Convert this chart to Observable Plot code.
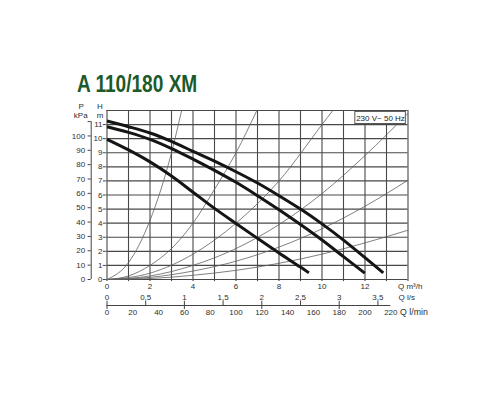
<!DOCTYPE html>
<html><head><meta charset="utf-8">
<script src="https://cdn.jsdelivr.net/npm/d3@7"></script>
<script src="https://cdn.jsdelivr.net/npm/@observablehq/plot@0.6"></script>
<style>
body{margin:0;background:#fff;}
#title{position:relative;height:100px;width:500px;}
#title span{position:absolute;left:77px;top:73px;font:bold 23px "Liberation Sans",Arial,sans-serif;color:#1b5a2a;transform:scaleX(0.83);transform-origin:0 0;white-space:nowrap;line-height:23px;}
#chart svg{display:block;}
</style></head><body>
<div id="title"><span>A 110/180 XM</span></div>
<div id="chart"></div>
<script>
// Pump curves (Q m³/h, H m)
const p1Q = [0, 1, 2, 3, 4, 5, 6, 7, 8, 9, 10, 11, 12, 12.85];
const p1H = [11.25, 10.85, 10.4, 9.8, 9.1, 8.4, 7.65, 6.85, 5.95, 5.0, 3.95, 2.8, 1.55, 0.47];
const p2Q = [0, 1, 2, 3, 4, 5, 6, 7, 8, 9, 10, 11, 11.99];
const p2H = [10.85, 10.45, 9.95, 9.3, 8.55, 7.75, 6.9, 5.95, 4.95, 3.9, 2.8, 1.62, 0.45];
const p3Q = [0, 1, 2, 3, 4, 5, 6, 7, 8, 9, 9.39];
const p3H = [9.95, 9.2, 8.35, 7.35, 6.2, 5.05, 3.98, 2.92, 1.88, 0.88, 0.47];

// System curves (thin)
const s1Q = [0, 1, 2, 3, 3.47];
const s1H = [0, 1.2, 4.2, 9.0, 12];
const s2Q = [0, 1, 2, 3, 4, 5, 6, 6.97];
const s2H = [0, 0.25, 1.0, 2.2, 4.0, 6.4, 9.0, 12];
const s3Q = [0, 2, 4, 6, 8, 10, 10.5];
const s3H = [0, 0.45, 1.8, 4.0, 7.0, 11.0, 12];
const s4Q = [0, 2, 4, 6, 8, 10, 12, 14];
const s4H = [0, 0.25, 1.0, 2.2, 3.9, 6.1, 8.8, 11.8];
const s5Q = [0, 2, 4, 6, 8, 10, 12, 14];
const s5H = [0, 0.15, 0.6, 1.3, 2.3, 3.6, 5.2, 7.05];
const s6Q = [0, 2, 4, 6, 8, 10, 12, 14];
const s6H = [0, 0.07, 0.3, 0.65, 1.15, 1.8, 2.6, 3.5];

// Axes / ticks
const gridQ = [0,1,2,3,4,5,6,7,8,9,10,11,12,13,14];
const gridH = [0,1,2,3,4,5,6,7,8,9,10,11,12];
const hTicks = [0,1,2,3,4,5,6,7,8,9,10,11];
const kpaTicks = [0,10,20,30,40,50,60,70,80,90,100];
const kpaTickMarks = [0,10,20,30,40,50,60,70,80,90,100,110];
const qTicks = [0,2,4,6,8,10,12];
const lsTicks = [0,0.5,1,1.5,2,2.5,3,3.5];
const lminTicks = [0,20,40,60,80,100,120,140,160,180,200,220];
const boxLabel = "230 V~ 50 Hz";

const toRows = (Q, H) => Q.map((q, i) => ({q, h: H[i]}));
const pumps = [toRows(p1Q, p1H), toRows(p2Q, p2H), toRows(p3Q, p3H)];
const systems = [toRows(s1Q, s1H), toRows(s2Q, s2H), toRows(s3Q, s3H), toRows(s4Q, s4H), toRows(s5Q, s5H), toRows(s6Q, s6H)];

const FONT = 8;
const TXT = "#2e2e2e";
const kpaX = -0.735;

const marks = [
  // grid
  Plot.ruleX(gridQ, {x: d => d, y1: -0.15, y2: 12, stroke: "#484848", strokeWidth: 1.1}),
  Plot.ruleY(gridH, {y: d => d, x1: 0, x2: 14, stroke: "#484848", strokeWidth: 1.1}),
  Plot.ruleY(hTicks, {y: d => d, x1: -0.17, x2: -0.03, stroke: "#444", strokeWidth: 1}),
  // system curves
  ...systems.map(s => Plot.line(s, {x: "q", y: "h", stroke: "#606060", strokeWidth: 0.8, curve: "monotone-x"})),
  // pump curves
  ...pumps.map(p => Plot.line(p, {x: "q", y: "h", stroke: "#151515", strokeWidth: 3, curve: "catmull-rom", strokeLinecap: "butt"})),
  // voltage box
  Plot.rect([boxLabel], {x1: 11.55, x2: 13.9, y1: 11.04, y2: 11.9, fill: "white", stroke: "#555", strokeWidth: 1}),
  Plot.text([boxLabel], {x: 12.72, y: 11.47, fontSize: 8, fill: "#222"}),
  // kPa axis
  Plot.ruleX([0], {x: kpaX, y1: 0, y2: 110 / 9.81, stroke: "#444"}),
  Plot.ruleY(kpaTickMarks, {y: d => d / 9.81, x1: -0.88, x2: kpaX, stroke: "#444"}),
  Plot.text(kpaTicks, {x: kpaX, y: d => d / 9.81, text: d => String(d), textAnchor: "end", dx: -6, fontSize: FONT, fill: TXT}),
  Plot.text(["P"], {x: kpaX, y: 12, dx: -10, dy: -4.5, fontSize: FONT, fill: TXT}),
  Plot.text(["kPa"], {x: kpaX, y: 12, dx: -10.5, dy: 4.5, fontSize: FONT, fill: TXT}),
  // H axis
  Plot.text(hTicks, {x: 0, y: d => d, text: d => String(d), textAnchor: "end", dx: -4.5, fontSize: FONT, fill: TXT}),
  Plot.text(["H"], {x: 0, y: 12, dx: -7, dy: -4.5, fontSize: FONT, fill: TXT}),
  Plot.text(["m"], {x: 0, y: 12, dx: -7, dy: 4.5, fontSize: FONT, fill: TXT}),
  // Q m³/h
  Plot.text(qTicks, {x: d => d, y: 0, dy: 7, text: d => String(d), fontSize: FONT, fill: TXT}),
  Plot.text(["Q m³/h"], {x: 14, y: 0, dx: -10, dy: 7, textAnchor: "start", fontSize: FONT, fill: TXT}),
  // Q l/s
  Plot.text(lsTicks, {x: d => d * 3.6, y: 0, dy: 18, text: d => String(d).replace(".", ","), fontSize: FONT, fill: TXT}),
  Plot.text(["Q l/s"], {x: 14, y: 0, dx: -9.5, dy: 18, textAnchor: "start", fontSize: FONT, fill: TXT}),
  Plot.ruleY([0], {y: 0, x1: 0, x2: 220 * 0.06, dy: 26, stroke: "#444"}),
  Plot.ruleX(lsTicks, {x: d => d * 3.6, y1: d => Number.isInteger(d) ? -0.28 : 0, y2: 0.3, dy: 26, stroke: "#444"}),
  // Q l/min
  Plot.text(lminTicks, {x: d => d * 0.06, y: 0, dy: 33, text: d => String(d), fontSize: FONT, fill: TXT}),
  Plot.text(["Q l/min"], {x: 14, y: 0, dx: -8, dy: 33, textAnchor: "start", fontSize: 8.8, fill: TXT})
];

const chart = Plot.plot({
  width: 500,
  height: 230,
  marginTop: 10,
  marginBottom: 51,
  marginLeft: 106.5,
  marginRight: 92.5,
  x: {domain: [0, 14], axis: null},
  y: {domain: [0, 12], axis: null},
  style: {fontFamily: "'Liberation Sans', Arial, sans-serif", background: "white", overflow: "visible"},
  marks
});
document.getElementById("chart").appendChild(chart);
</script>
</body></html>
